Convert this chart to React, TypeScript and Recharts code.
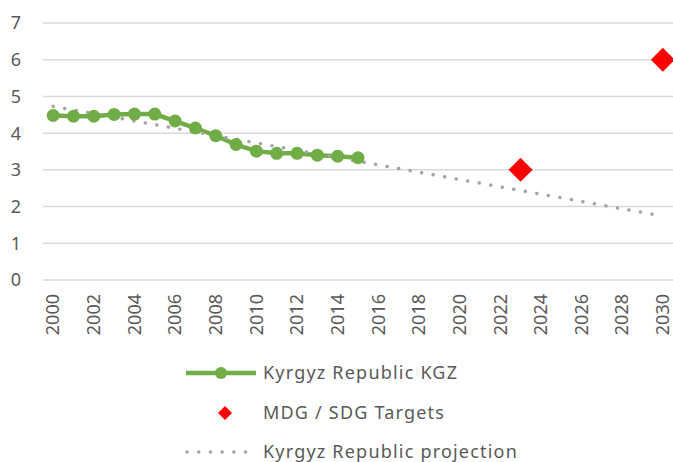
import {
  ComposedChart,
  Line,
  Scatter,
  XAxis,
  YAxis,
  CartesianGrid,
  Legend,
} from 'recharts';

// Kyrgyz Republic observed values
const kgzYears = [2000, 2001, 2002, 2003, 2004, 2005, 2006, 2007, 2008, 2009, 2010, 2011, 2012, 2013, 2014, 2015];
const kgzValues = [4.48, 4.46, 4.46, 4.51, 4.52, 4.52, 4.33, 4.14, 3.93, 3.69, 3.51, 3.45, 3.45, 3.4, 3.37, 3.33];

// MDG / SDG targets
const targetYears = [2023, 2030];
const targetValues = [3, 6];

// linear projection (end points of the trend line)
const projectionYears = [2000, 2030];
const projectionValues = [4.73, 1.74];

const xTicks = [2000, 2002, 2004, 2006, 2008, 2010, 2012, 2014, 2016, 2018, 2020, 2022, 2024, 2026, 2028, 2030];
const yTicks = [0, 1, 2, 3, 4, 5, 6, 7];

const GREEN = '#70AD47';
const RED = '#FF0000';
const GREY = '#A5A5A5';
const TEXT = '#595959';
const FONT = '"Noto Sans", sans-serif';

const kgzData = kgzYears.map((year, i) => ({ year, value: kgzValues[i] }));
const targetData = targetYears.map((year, i) => ({ year, value: targetValues[i] }));
const projectionData = projectionYears.map((year, i) => ({ year, value: projectionValues[i] }));

function XTick({ x, y, payload }: any) {
  return (
    <text
      x={x}
      y={y + 6}
      dy="0.35em"
      transform={`rotate(-90, ${x}, ${y + 6})`}
      textAnchor="end"
      fill={TEXT}
      fontSize={18}
      fontFamily={FONT}
    >
      {payload.value}
    </text>
  );
}

function Diamond({ cx, cy, half = 12 }: any) {
  if (cx == null || cy == null) return null;
  return (
    <polygon
      points={`${cx},${cy - half} ${cx + half},${cy} ${cx},${cy + half} ${cx - half},${cy}`}
      fill={RED}
    />
  );
}

function LegendBox() {
  const textProps = { x: 263, fill: TEXT, fontSize: 18, fontFamily: FONT, letterSpacing: 1.2, dy: '0.35em' };
  return (
    <svg width={673} height={112}>
      <line x1={186} x2={256} y1={23} y2={23} stroke={GREEN} strokeWidth={4.5} />
      <circle cx={221} cy={23} r={6} fill={GREEN} />
      <text {...textProps} y={23}>Kyrgyz Republic KGZ</text>

      <Diamond cx={225} cy={63} half={7} />
      <text {...textProps} y={63}>MDG / SDG Targets</text>

      <line
        x1={187}
        x2={252}
        y1={102}
        y2={102}
        stroke={GREY}
        strokeWidth={3.5}
        strokeDasharray="0.1 11.6"
        strokeLinecap="round"
      />
      <text {...textProps} y={102}>Kyrgyz Republic projection</text>
    </svg>
  );
}

export default function App() {
  return (
    <div style={{ position: 'absolute', left: 0, top: 0, width: 673, height: 462, background: '#fff' }}>
      <ComposedChart width={673} height={462} margin={{ top: 23, right: 0, bottom: 122, left: 0 }}>
        <CartesianGrid horizontal vertical={false} stroke="#D9D9D9" strokeWidth={1.5} />
        <XAxis
          dataKey="year"
          type="number"
          domain={[1999.5, 2030.5]}
          ticks={xTicks}
          interval={0}
          axisLine={false}
          tickLine={false}
          height={60}
          tick={<XTick />}
          allowDuplicatedCategory={false}
        />
        <YAxis
          type="number"
          domain={[0, 7]}
          ticks={yTicks}
          width={43}
          axisLine={false}
          tickLine={false}
          tickMargin={16}
          tick={{ fill: TEXT, fontSize: 18, fontFamily: FONT }}
        />
        <Line
          data={kgzData}
          dataKey="value"
          stroke={GREEN}
          strokeWidth={4.5}
          dot={{ r: 6.5, fill: GREEN, stroke: 'none' }}
          isAnimationActive={false}
        />
        <Line
          data={projectionData}
          dataKey="value"
          stroke={GREY}
          strokeWidth={3.5}
          strokeDasharray="0.1 11.6"
          strokeLinecap="round"
          dot={false}
          isAnimationActive={false}
        />
        <Scatter
          data={targetData}
          dataKey="value"
          shape={<Diamond half={12} />}
          isAnimationActive={false}
        />
        <Legend
          layout="vertical"
          align="center"
          verticalAlign="middle"
          wrapperStyle={{ top: 350, left: 0, width: 673 }}
          content={() => <LegendBox />}
        />
      </ComposedChart>
    </div>
  );
}
